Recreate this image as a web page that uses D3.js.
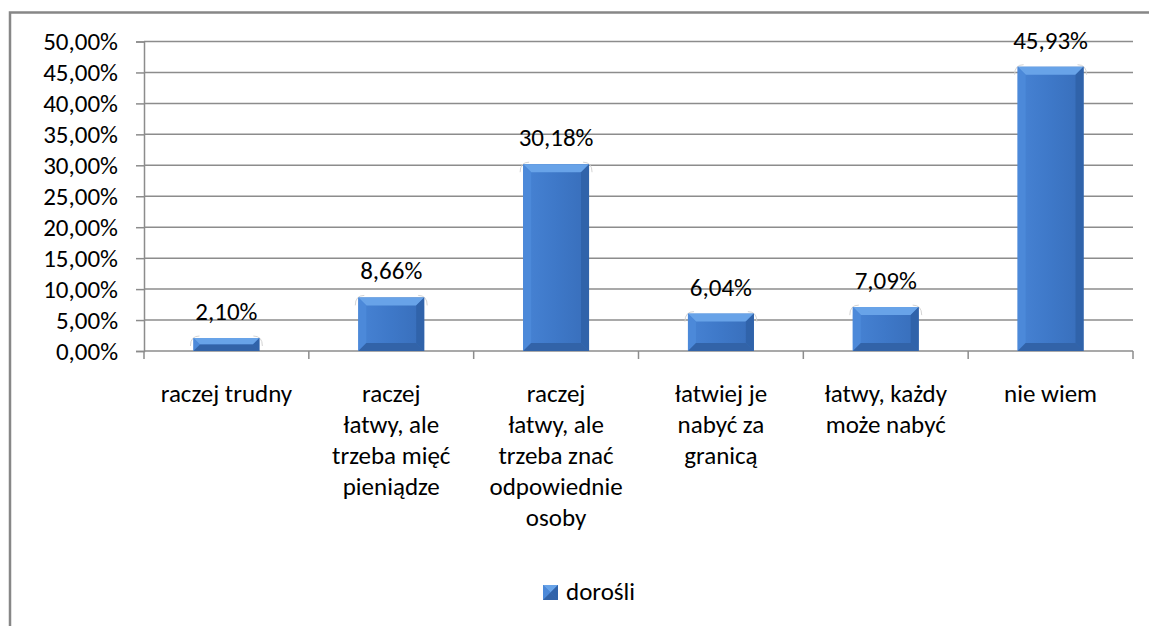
<!DOCTYPE html>
<html>
<head>
<meta charset="utf-8">
<script src="https://cdn.jsdelivr.net/npm/d3@7"></script>
<style>
  body { margin: 0; background: #fff; }
  svg text { font-family: Carlito, Lato, "Liberation Sans", sans-serif; fill: #000; }
</style>
</head>
<body>
<div id="chart"></div>
<script>
// categories (already wrapped like in the picture)
const categories = [
    ["raczej trudny"],
    ["raczej", "łatwy, ale", "trzeba mięć", "pieniądze"],
    ["raczej", "łatwy, ale", "trzeba znać", "odpowiednie", "osoby"],
    ["łatwiej je", "nabyć za", "granicą"],
    ["łatwy, każdy", "może nabyć"],
    ["nie wiem"]
]
const values = [2.10, 8.66, 30.18, 6.04, 7.09, 45.93]
const yTicks = [0, 5, 10, 15, 20, 25, 30, 35, 40, 45, 50]
const seriesName = "dorośli"

const width = 1149, height = 626
const margin = ({top: 41.5, right: 16, bottom: 275, left: 144})
const fontSize = 25
const fmt = v => v.toFixed(2).replace(".", ",") + "%"

const svg = d3.select("#chart").append("svg")
    .attr("width", width).attr("height", height)

// outer frame (cropped on right and bottom)
svg.append("path")
    .attr("d", `M10,${height + 5} V12.5 H${width + 5}`)
    .attr("fill", "none").attr("stroke", "#878787").attr("stroke-width", 2.5)

const defs = svg.append("defs")
const grad = defs.append("linearGradient").attr("id", "barGrad")
    .attr("x1", 0).attr("x2", 1).attr("y1", 0).attr("y2", 0)
grad.append("stop").attr("offset", "0%").attr("stop-color", "#4783d4")
grad.append("stop").attr("offset", "50%").attr("stop-color", "#3e78c8")
grad.append("stop").attr("offset", "100%").attr("stop-color", "#386eba")

const x = d3.scaleBand()
    .domain(d3.range(categories.length))
    .range([margin.left, width - margin.right])
    .paddingInner(0.6).paddingOuter(0.3)

const xOuter = d3.scaleBand()
    .domain(d3.range(categories.length))
    .range([margin.left, width - margin.right])

const y = d3.scaleLinear()
    .domain([0, 50])
    .range([height - margin.bottom, margin.top])

// gridlines
svg.append("g")
    .selectAll("line")
    .data(yTicks.filter(d => d > 0))
    .join("line")
    .attr("x1", margin.left).attr("x2", width - margin.right)
    .attr("y1", d => y(d)).attr("y2", d => y(d))
    .attr("stroke", "#8c8c8c").attr("stroke-width", 1.5)

// y axis
const gy = svg.append("g")
    .attr("transform", `translate(${margin.left},0)`)
    .call(d3.axisLeft(y).tickValues(yTicks).tickFormat(fmt).tickSize(8).tickPadding(18))
gy.select(".domain").attr("stroke", "#8c8c8c").attr("stroke-width", 1.5)
gy.selectAll(".tick line").attr("stroke", "#8c8c8c").attr("stroke-width", 1.5)
gy.selectAll(".tick text").attr("font-size", fontSize)
    .style("font-family", "Carlito, Lato, 'Liberation Sans', sans-serif")

// x axis line with category separator ticks
const gx = svg.append("g")
    .attr("transform", `translate(0,${y(0)})`)
gx.append("line")
    .attr("x1", margin.left).attr("x2", width - margin.right)
    .attr("stroke", "#8c8c8c").attr("stroke-width", 1.5)
gx.selectAll("line.sep")
    .data(d3.range(categories.length + 1))
    .join("line").attr("class", "sep")
    .attr("x1", i => i < categories.length ? xOuter(i) : width - margin.right)
    .attr("x2", i => i < categories.length ? xOuter(i) : width - margin.right)
    .attr("y1", 0).attr("y2", 8)
    .attr("stroke", "#8c8c8c").attr("stroke-width", 1.5)

// category labels
const catG = svg.append("g")
categories.forEach((lines, i) => {
    const t = catG.append("text")
        .attr("text-anchor", "middle")
        .attr("font-size", fontSize)
        .attr("x", x(i) + x.bandwidth() / 2)
        .attr("y", 402)
    lines.forEach((ln, j) => {
        t.append("tspan")
            .attr("x", x(i) + x.bandwidth() / 2)
            .attr("dy", j === 0 ? 0 : 31)
            .text(ln)
    })
})

// bars with a bevel look
function drawBar(g, bx, by, bw, bh, glow) {
    const b = Math.min(8, bh / 2)
    if (glow) {
        // soft glow at the top corners
        g.append("path")
            .attr("d", `M${bx - 3},${by + 8} Q${bx - 3},${by - 2} ${bx + 6},${by - 2}`)
            .attr("fill", "none").attr("stroke", "#d4d4d4").attr("stroke-width", 1)
        g.append("path")
            .attr("d", `M${bx + bw + 3},${by + 8} Q${bx + bw + 3},${by - 2} ${bx + bw - 6},${by - 2}`)
            .attr("fill", "none").attr("stroke", "#d4d4d4").attr("stroke-width", 1)
    }
    g.append("rect")
        .attr("x", bx).attr("y", by).attr("width", bw).attr("height", bh)
        .attr("fill", "url(#barGrad)")
    // top bevel
    g.append("path")
        .attr("d", `M${bx},${by} H${bx + bw} L${bx + bw - b},${by + b} H${bx + b} Z`)
        .attr("fill", "#68a3e8")
    // left bevel
    g.append("path")
        .attr("d", `M${bx},${by} L${bx + b},${by + b} V${by + bh - b} L${bx},${by + bh} Z`)
        .attr("fill", "#4c89d9")
    // right bevel
    g.append("path")
        .attr("d", `M${bx + bw},${by} L${bx + bw - b},${by + b} V${by + bh - b} L${bx + bw},${by + bh} Z`)
        .attr("fill", "#3063aa")
    // bottom bevel
    g.append("path")
        .attr("d", `M${bx},${by + bh} H${bx + bw} L${bx + bw - b},${by + bh - b} H${bx + b} Z`)
        .attr("fill", "#3263a8")
}

const barsG = svg.append("g")
values.forEach((v, i) => {
    drawBar(barsG, x(i), y(v), x.bandwidth(), y(0) - y(v), true)
})

// data labels
svg.append("g")
    .selectAll("text")
    .data(values)
    .join("text")
    .attr("text-anchor", "middle")
    .attr("font-size", fontSize)
    .attr("x", (d, i) => x(i) + x.bandwidth() / 2)
    .attr("y", d => y(d) - 18)
    .text(fmt)

// legend
const leg = svg.append("g").attr("transform", "translate(543,585)")
drawBar(leg.append("g"), 0, 0, 15, 15, false)
leg.append("text")
    .attr("x", 23).attr("y", 15)
    .attr("font-size", fontSize)
    .text(seriesName)
</script>
</body>
</html>
